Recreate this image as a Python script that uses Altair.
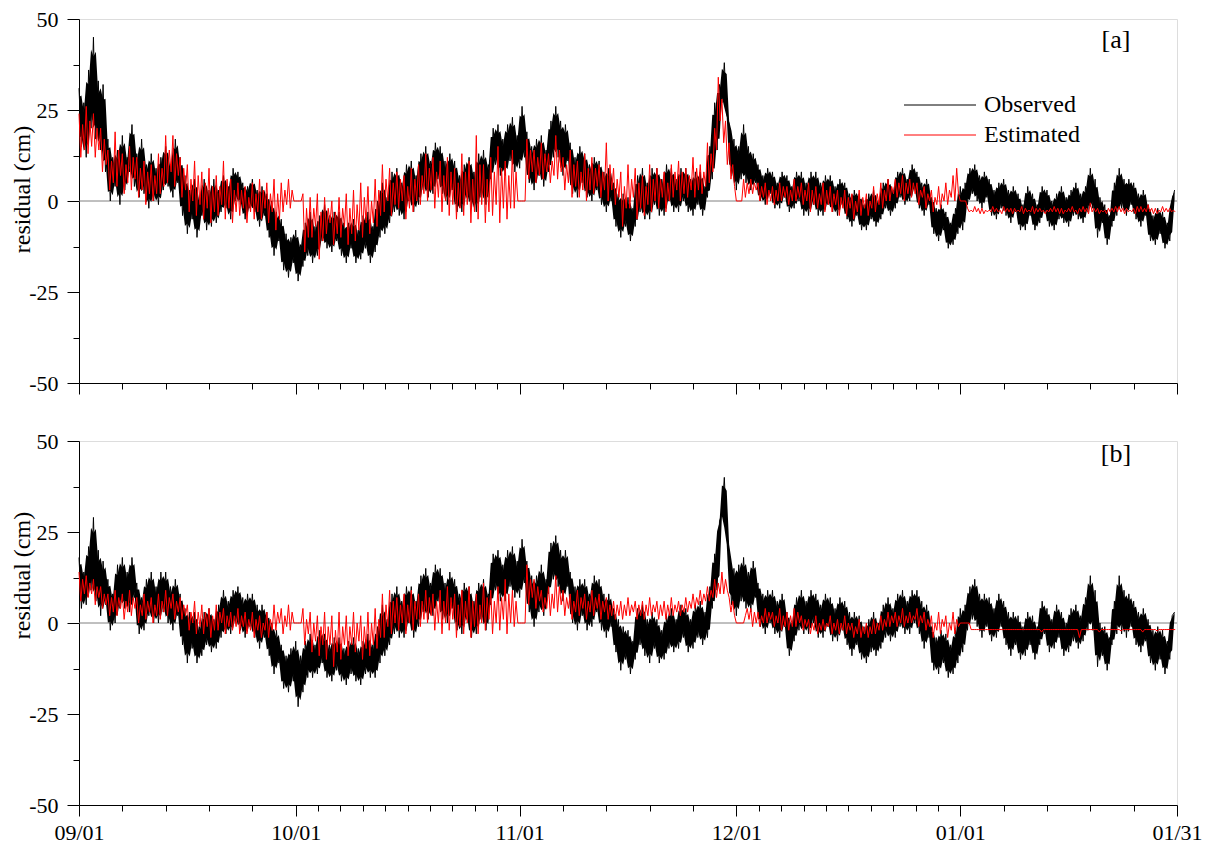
import altair as alt
import numpy as np
import pandas as pd

# ---------------- data ----------------
# Observed residual, panel [a]: 3 samples per day from 09/01
OBS_A = [
    31,15,27, 12,36,20, 45,17,33, 14,32,8, 17,0,12, 4,14,-1, 18,3,12, 8,21,4, 13,1,17, 2,10,-2,
    13,0,9, -1,12,3, 15,4,10, 1,17,5, 12,-4,7, -9,3,-5, 6,-10,1, -4,6,-8, 3,-7,6, -6,3,-3,
    7,-2,4, -5,9,0, 8,-1,5, -5,4,-2, 6,-3,3, -7,4,-4, 2,-10,0, -15,-3,-11, -5,-19,-9, -21,-10,-17,
    -8,-22,-12, -18,-6,-15, -3,-17,-7, -15,-4,-11, -1,-13,-4, -14,-3,-11, -3,-15,-6, -17,-6,-13, -5,-17,-8, -16,-4,-13,
    -3,-17,-7, -14,0,-10, 5,-9,1, -6,8,-3, 9,-4,5, -5,10,0, 11,-3,7, -1,13,3, 15,1,11, 2,16,6,
    15,2,11, -1,13,3, 11,-3,7, -3,10,1, 12,-2,8, -3,13,1, 14,-1,10, 6,20,10, 21,7,17, 7,21,11,
    23,8,18, 9,26,12, 19,5,15, 3,17,7, 18,4,14, 8,22,12, 26,12,22, 7,21,11, 16,2,12, 1,15,5,
    13,1,10, 0,12,3, 11,-1,8, -3,9,0, 5,-7,2, -10,2,-7, 1,-11,-2, -7,7,-3, 9,-5,5, -5,9,-1,
    9,-4,6, -4,10,0, 9,-3,6, -3,9,0, 9,-3,6, -4,8,-1, 8,-4,4, 1,15,6, 27,14,32, 27,38,24,
    21,7,17, 3,15,6, 21,5,15, 3,13,5, 10,0,7, -1,9,2, 8,-2,5, -2,8,1, 7,-3,4, -2,8,0,
    8,-4,5, -4,8,-1, 8,-4,5, -4,7,-1, 7,-3,4, -4,6,-1, 5,-5,2, -7,3,-4, 2,-8,-1, -8,2,-5,
    3,-7,0, -5,5,-2, 6,-4,3, -2,8,1, 9,-1,6, 0,10,3, 8,-2,5, -4,6,-1, 1,-9,-2, -11,-1,-8,
    -3,-13,-6, -12,-2,-9, 4,-8,5, -1,9,2, 10,0,7, -2,8,1, 6,-4,3, -5,5,-2, 6,-4,3, -6,4,-3,
    2,-8,-1, -8,4,-4, 2,-8,-1, -6,4,-3, 3,-7,0, -8,2,-5, 4,-6,1, -7,3,-4, 5,-5,2, -6,4,-3,
    9,-2,6, -10,1,-6, -1,-12,-4, -7,5,-4, 9,-2,6, -4,6,-1, 5,-5,2, -7,3,-4, -1,-11,-4, -12,-2,-9,
    -3,-13,-6, -11,0,3,
]
# Estimated residual, panel [a]: 4 samples per day
EST_A = [
    24,12,21,14, 26,13,22,15, 24,12,20,14, 20,8,17,10, 14,3,11,5,
    19,4,14,7, 13,2,10,5, 15,3,12,6, 12,1,9,3, 11,-1,8,2,
    10,0,7,2, 13,2,9,4, 18,5,14,8, 18,4,13,7, 12,1,9,3,
    10,-3,6,0, 11,-4,7,-1, 8,-5,5,-2, 9,-6,4,-3, 7,-4,4,-1,
    11,-5,6,-2, 6,-6,3,-3, 5,-4,3,-2, 4,-6,1,-3, 5,-5,2,-3,
    6,-5,3,-2, 5,-6,2,-3, 6,-8,2,-5, 5,-3,3,-1, 6,-2,3,0,
    0,0,0,0, 2,-14,-2,-10, 1,-10,-2,-7, 2,-16,-3,-11, 1,-9,-2,-6,
    0,-12,-3,-9, 1,-10,-2,-7, 2,-12,-2,-9, 3,-11,-1,-8, 5,-10,1,-6,
    4,-9,0,-6, 6,-7,3,-4, 10,-3,6,0, 9,-4,5,-1, 8,-2,6,0,
    7,-5,4,-2, 9,-3,6,0, 10,-1,7,2, 13,0,9,3, 12,-2,8,1,
    11,-3,7,0, 12,-4,8,-1, 9,-5,5,-2, 13,-4,8,-1, 11,-6,6,-3,
    18,-5,10,-1, 10,-6,6,-3, 12,-4,8,-1, 15,-6,9,-2, 11,-5,7,-2,
    14,-2,8,0, 0,0,0,0, 17,6,14,8, 14,5,12,7, 16,6,13,8,
    13,5,11,7, 18,6,14,8, 12,3,10,5, 14,1,10,4, 11,1,8,3,
    13,0,9,3, 12,2,9,4, 10,1,8,3, 16,0,10,3, 9,-1,6,1,
    8,-7,4,-2, 10,-2,6,1, 9,-5,5,-2, 7,-4,4,-1, 10,-3,6,0,
    9,-2,6,1, 8,-3,5,0, 10,1,8,3, 11,0,8,2, 9,1,7,3,
    12,1,9,3, 10,2,8,4, 16,5,13,8, 20,14,34,22, 28,16,22,10,
    16,6,10,4, 0,0,0,0, 6,1,5,2, 6,2,5,3, 5,0,4,1,
    5,-1,3,0, 4,-1,3,0, 5,0,4,1, 4,-1,3,0, 6,0,4,1,
    5,-1,3,0, 5,-3,3,-1, 4,-2,2,-1, 5,-3,3,-1, 4,-3,2,-1,
    3,-4,1,-2, 3,-4,1,-2, 2,-5,0,-3, 3,-4,1,-2, 2,-4,0,-2,
    4,-3,2,-1, 5,-2,3,0, 6,0,4,2, 6,1,5,2, 7,0,5,2,
    6,1,5,2, 5,-1,3,1, 4,-2,2,0, 3,-3,1,-1, 4,-2,2,0,
    5,-1,3,1, 7,0,9,2, 0,0,0,0,
    -2,-3,-2.5,-3, -1.5,-3,-2,-3.5, -2,-3.5,-2.5,-3, -2.5,-3,-1.5,-3, -2,-3,-2.5,-3.5,
    -1.5,-3,-2,-3, -2,-3.5,-2,-3, -2.5,-3,-1.5,-3.5, -2,-3,-2.5,-3, -1.5,-3.5,-2,-3,
    -2,-3,-2.5,-3.5, -2.5,-3,-2,-3, -1.5,-3,-2,-3.5, -2,-3.5,-2.5,-3, -2,-3,-1.5,-3,
    -2.5,-3.5,-2,-3, -1.5,-3,-2,-3.5, -0.5,-3,-2,-3, -2,-3.5,-2.5,-3, -2.5,-3.5,-2,-3,
    -2,-3,-1.5,-3, -1.5,-3,-2,-3.5, -2,-3,-2.5,-3, -2,-3.5,-1.5,-3, -1.5,-3,-2,-3,
    -1,-3,-2,-3.5, -2,-3.5,-2.5,-3, -1.5,-3,-2,-3, -2,-3,-2.5,-3,
]
# Observed residual, panel [b]: 3 samples per day
OBS_B = [
    18,4,14, 5,21,9, 29,6,20, 2,17,5, 12,-2,8, 0,16,4, 18,4,14, 3,18,7, 11,-3,7, -2,12,2,
    14,0,10, 0,14,3, 14,0,10, -2,12,2, 8,-6,4, -11,3,-7, 3,-11,-1, -9,3,-6, 4,-8,1, -7,5,-4,
    9,-3,6, -3,9,0, 10,-2,7, -4,8,-1, 8,-4,5, -7,5,-4, 3,-9,0, -14,-2,-11, -6,-18,-9, -19,-7,-16,
    -5,-23,-9, -19,-5,-15, -3,-15,-6, -14,-2,-11, -3,-15,-6, -16,-4,-13, -4,-16,-7, -17,-5,-14, -4,-16,-7, -17,-5,-14,
    -3,-15,-6, -15,-1,-11, 5,-9,1, -6,8,-3, 10,-4,6, -4,10,0, 10,-4,6, -1,13,3, 15,1,11, 2,16,6,
    15,1,11, 0,14,4, 12,-2,8, -3,11,1, 10,-4,6, -3,11,1, 12,-2,8, 5,19,9, 20,6,16, 6,20,10,
    21,7,17, 7,23,11, 17,3,13, -1,13,3, 16,2,12, 8,22,12, 24,10,20, 6,20,10, 14,0,10, -2,12,2,
    12,-2,8, -1,13,3, 12,-2,8, -4,8,-1, 4,-8,1, -13,-1,-10, -2,-14,-5, -10,4,-6, 5,-9,1, -11,3,-7,
    1,-11,-2, -10,2,-7, 4,-8,1, -7,5,-4, 4,-8,1, -7,5,-4, 6,-6,3, -4,10,4, 19,9,28, 30,40,24,
    19,5,15, 2,16,6, 18,4,14, 3,17,7, 11,-1,8, -3,9,0, 9,-3,6, -4,8,-1, 3,-9,0, -5,7,-2,
    9,-3,6, -3,9,0, 8,-4,5, -4,8,-1, 7,-5,4, -5,7,-2, 6,-6,3, -9,3,-6, 2,-10,-1, -11,1,-8,
    3,-9,0, -7,5,-4, 7,-5,4, -4,8,-1, 9,-3,6, -3,9,0, 9,-3,6, -7,5,-4, -1,-13,-4, -14,-2,-11,
    -3,-15,-6, -14,-2,-11, 4,-8,5, -2,10,1, 12,-1,8, -4,8,-1, 7,-5,4, -4,8,-1, 6,-6,3, -9,3,-6,
    2,-10,-1, -9,3,-6, 2,-10,-1, -6,6,-3, 4,-8,1, -7,5,-4, 3,-9,0, -8,4,-5, 5,-7,2, -5,7,-2,
    13,-2,9, -12,0,-9, -1,-13,-4, -6,6,-3, 13,-3,9, -4,8,-1, 6,-6,3, -8,4,-5, 1,-11,-2, -13,-1,-10,
    -2,-14,-5, -10,2,3,
]
# Estimated residual, panel [b]: 4 samples per day
EST_B = [
    14,6,12,8, 13,7,11,8, 12,5,10,7, 10,4,8,5, 8,2,7,3,
    9,2,7,4, 8,1,6,3, 9,2,7,4, 7,0,5,2, 8,1,6,3,
    7,0,5,2, 8,1,6,3, 9,2,7,4, 8,1,6,3, 7,1,5,2,
    5,-2,3,0, 6,-3,3,-1, 5,-3,3,-1, 4,-4,2,-2, 5,-2,3,0,
    4,-3,2,-1, 3,-2,2,-1, 4,-3,2,-1, 3,-3,1,-2, 3,-4,1,-2,
    2,-4,0,-2, 3,-4,1,-2, 5,-2,3,0, 4,-3,2,-1, 5,-2,3,0,
    0,0,0,0, 4,-6,1,-3, 3,-8,0,-5, 2,-9,-1,-6, 3,-10,-1,-6,
    2,-12,-2,-8, 3,-10,-1,-6, 2,-9,-1,-6, 3,-8,0,-5, 2,-10,-1,-7,
    3,-9,0,-6, 4,-7,1,-4, 8,-4,5,-1, 9,-3,6,0, 7,-2,5,0,
    8,-3,5,0, 9,-2,6,1, 8,-1,6,1, 9,0,7,2, 8,-2,6,0,
    9,-3,6,0, 10,-2,7,1, 8,-4,5,-1, 9,-3,6,0, 10,-4,6,-1,
    8,-3,5,0, 11,-2,7,1, 9,-3,6,0, 10,-2,7,1, 12,-3,8,0,
    9,-1,6,0, 0,0,0,0, 16,5,12,7, 12,4,10,6, 9,3,7,4,
    10,2,8,4, 13,3,10,5, 9,2,7,4, 8,1,6,3, 9,2,7,4,
    8,1,6,3, 9,2,7,4, 8,1,6,3, 7,1,5,2, 6,1,5,2,
    6,1,5,2, 7,2,5,3, 6,1,5,2, 6,1,5,2, 7,2,5,3,
    6,1,5,2, 6,1,5,2, 7,2,5,3, 6,2,5,3, 7,3,6,4,
    8,4,7,5, 9,5,8,6, 10,6,9,7, 12,7,11,8, 14,8,12,9,
    7,3,6,2, 0,0,0,0, 0,2,4,1, 4,-1,3,0, 3,-1,2,0,
    4,0,3,1, 3,-1,2,0, 4,-2,2,-1, 3,-2,2,-1, 4,-1,3,0,
    2,-2,1,-1, 1,-3,0,-2, 2,-3,0,-2, 1,-2,0,-1, 2,-3,0,-2,
    1,-3,0,-2, 2,-3,0,-2, 0,-4,-1,-3, 1,-4,-1,-3, 0,-4,-1,-3,
    1,-3,0,-2, 2,-2,1,-1, 3,-1,2,0, 3,-1,2,0, 4,-1,2,0,
    3,0,2,1, 4,-1,2,0, 3,-2,1,-1, 2,-4,0,-2, 3,-3,1,-1,
    2,-4,0,-2, 3,-3,1,-1, 0,0,0,0, 0,0,-1.8,-1.8,
    -1.8,-1.8,-1.8,-1.8, -1.8,-1.8,-1.8,-1.8, -1.8,-1.8,-1.8,-1.8, -1.8,-1.8,-1.8,-1.8,
    -1.8,-1.8,-1.8,-1.8, -1.8,-1.8,-1.8,-1.8, -1.8,-1.8,-1.8,-1.8, -1.8,-1.8,-1.8,-1.8,
    -1.8,-1.8,-1.8,-1.8, -1.8,-2.5,-1.8,-1.8, -1.8,-1.8,-1.8,-1.8, -1.8,-1.8,-1.8,-1.8,
    -1.8,-1.8,-1.8,-1.8, -1.8,-1.8,-1.8,-1.8, -1.8,-1.8,-4,-1.8, -1.8,-1.8,-1.8,-1.8,
    -1.8,-1.8,-1.8,-1.8, -1.8,-2.5,-1.8,-1.8, -1.8,-1.8,-1.8,-1.8, -1.8,-1.8,-1.8,-1.8,
    -1.8,-2.2,-1.8,-1.8, -1.8,-1.8,-1.8,-1.8, -1.8,-1.8,-1.8,-1.8, -1.8,-2.5,-1.8,-1.8,
    -1.8,-1.8,-1.8,-1.8, -1.8,-2.2,-1.8,-1.8, -1.8,-1.8,-1.8,-1.8, -1.8,-1.8,-1.8,-1.8,
]

OBS_PER_DAY = 3
EST_PER_DAY = 4

# axis ticks (days since 09/01)
MONTH_TICKS = [0, 30, 61, 91, 122, 152]
MONTH_LABELS = ["09/01", "10/01", "11/01", "12/01", "01/01", "01/31"]
MINOR_TICKS = [6, 12, 18, 24,
               33.1, 36.2, 39.3, 42.4, 45.5, 48.6, 51.7, 54.8, 57.9,
               67, 73, 79, 85,
               94.1, 97.2, 100.3, 103.4, 106.5, 109.6, 112.7, 115.8, 118.9,
               128, 134, 140, 146]
Y_TICKS = [-50, -37.5, -25, -12.5, 0, 12.5, 25, 37.5, 50]
ZERO = [0]

SERIES = ["Observed", "Estimated"]
COLORS = ["#000000", "#ff0000"]
PANEL_TAGS = ["[a]", "[b]"]

FONT = "Liberation Serif"
W, H = 1098, 364


def series_frame(vals, per_day):
    return pd.DataFrame({"t": np.arange(len(vals)) / per_day, "v": vals})


x_label_expr = "".join(
    f"datum.value == {t} ? '{lab}' : " for t, lab in zip(MONTH_TICKS, MONTH_LABELS)
) + "''"
x_major_test = " || ".join(f"datum.value == {t}" for t in MONTH_TICKS)

X_SCALE = alt.Scale(domain=[0, 152], nice=False, zero=False)
Y_SCALE = alt.Scale(domain=[-50, 50], nice=False, zero=False)


def x_axis(show_labels):
    return alt.Axis(
        values=sorted(MONTH_TICKS + MINOR_TICKS),
        labels=show_labels,
        labelExpr=x_label_expr,
        labelFont=FONT, labelFontSize=22, labelColor="black",
        labelPadding=6, labelOverlap=False, labelFlush=False,
        tickSize={"condition": {"test": x_major_test, "value": 11}, "value": 6},
        tickColor="black", tickWidth=1,
        domainColor="black", domainWidth=1,
        grid=False, title=None,
    )


def y_axis(title_y):
    return alt.Axis(
        values=Y_TICKS,
        labelExpr="datum.value % 25 == 0 ? '' + datum.value : ''",
        labelFont=FONT, labelFontSize=22, labelColor="black",
        labelPadding=9,
        tickSize={"condition": {"test": "datum.value % 25 == 0", "value": 12}, "value": 6},
        tickColor="black", tickWidth=1,
        domainColor="black", domainWidth=1,
        grid=False,
        title="residual (cm)",
        titleFont=FONT, titleFontSize=24, titleFontWeight="normal", titleColor="black",
        titleX=-57, titleY=title_y, titleAngle=-90,
        titleAlign="center", titleBaseline="middle",
    )


def panel(obs, est, tag, show_labels, title_y, tag_y, with_legend):
    X = alt.X("t:Q", scale=X_SCALE, axis=x_axis(show_labels))
    YA = y_axis(title_y)
    Y = alt.Y("v:Q", scale=Y_SCALE, axis=YA)

    zero = alt.Chart(pd.DataFrame({"v": ZERO})).mark_rule(
        color="#808080", strokeWidth=1).encode(y=Y)

    obs_df = series_frame(obs, OBS_PER_DAY)
    # dense core of the observed trace: part of the local envelope of the same samples
    obs_core = alt.Chart(obs_df).transform_window(
        mx="max(v)", mn="min(v)", m="mean(v)", frame=[-1, 1], sort=[{"field": "t"}]
    ).transform_calculate(
        hi="datum.m + 0.7 * (datum.mx - datum.m)",
        lo="datum.m + 0.7 * (datum.mn - datum.m)",
    ).mark_area(color=COLORS[0], opacity=1).encode(
        x=X, y=alt.Y("hi:Q", scale=Y_SCALE, axis=YA), y2="lo:Q")
    obs_line = alt.Chart(obs_df).mark_line(
        color=COLORS[0], strokeWidth=1.0).encode(x=X, y=Y)
    est_line = alt.Chart(series_frame(est, EST_PER_DAY)).mark_line(
        color=COLORS[1], strokeWidth=1.0).encode(x=X, y=Y)
    tag_text = alt.Chart(pd.DataFrame({"s": [tag]})).mark_text(
        font=FONT, fontSize=26, color="black", align="center", baseline="middle"
    ).encode(x=alt.value(1037), y=alt.value(tag_y), text="s:N")
    layers = [zero, obs_core, obs_line, est_line, tag_text]
    if with_legend:
        for i, (name, col) in enumerate(zip(SERIES, COLORS)):
            ly = 86 + 30 * i
            d = pd.DataFrame({"s": [name]})
            layers.append(alt.Chart(d).mark_rule(color=col, strokeWidth=1).encode(
                x=alt.value(825), x2=alt.value(897), y=alt.value(ly)))
            layers.append(alt.Chart(d).mark_text(
                font=FONT, fontSize=24, color="black", align="left", baseline="middle"
            ).encode(x=alt.value(905), y=alt.value(ly), text="s:N"))
    return alt.layer(*layers).properties(width=W, height=H)


pa = panel(OBS_A, EST_A, PANEL_TAGS[0], False, 170, 21, True)
pb = panel(OBS_B, EST_B, PANEL_TAGS[1], True, 134, 13, False)

chart = alt.vconcat(pa, pb, spacing=58, bounds="flush").properties(
    padding={"left": 9, "top": 7, "right": 5, "bottom": 5}
).configure_view(stroke=None).configure(background="white")

chart.save("out.html", embed_options={"renderer": "svg", "actions": False})
